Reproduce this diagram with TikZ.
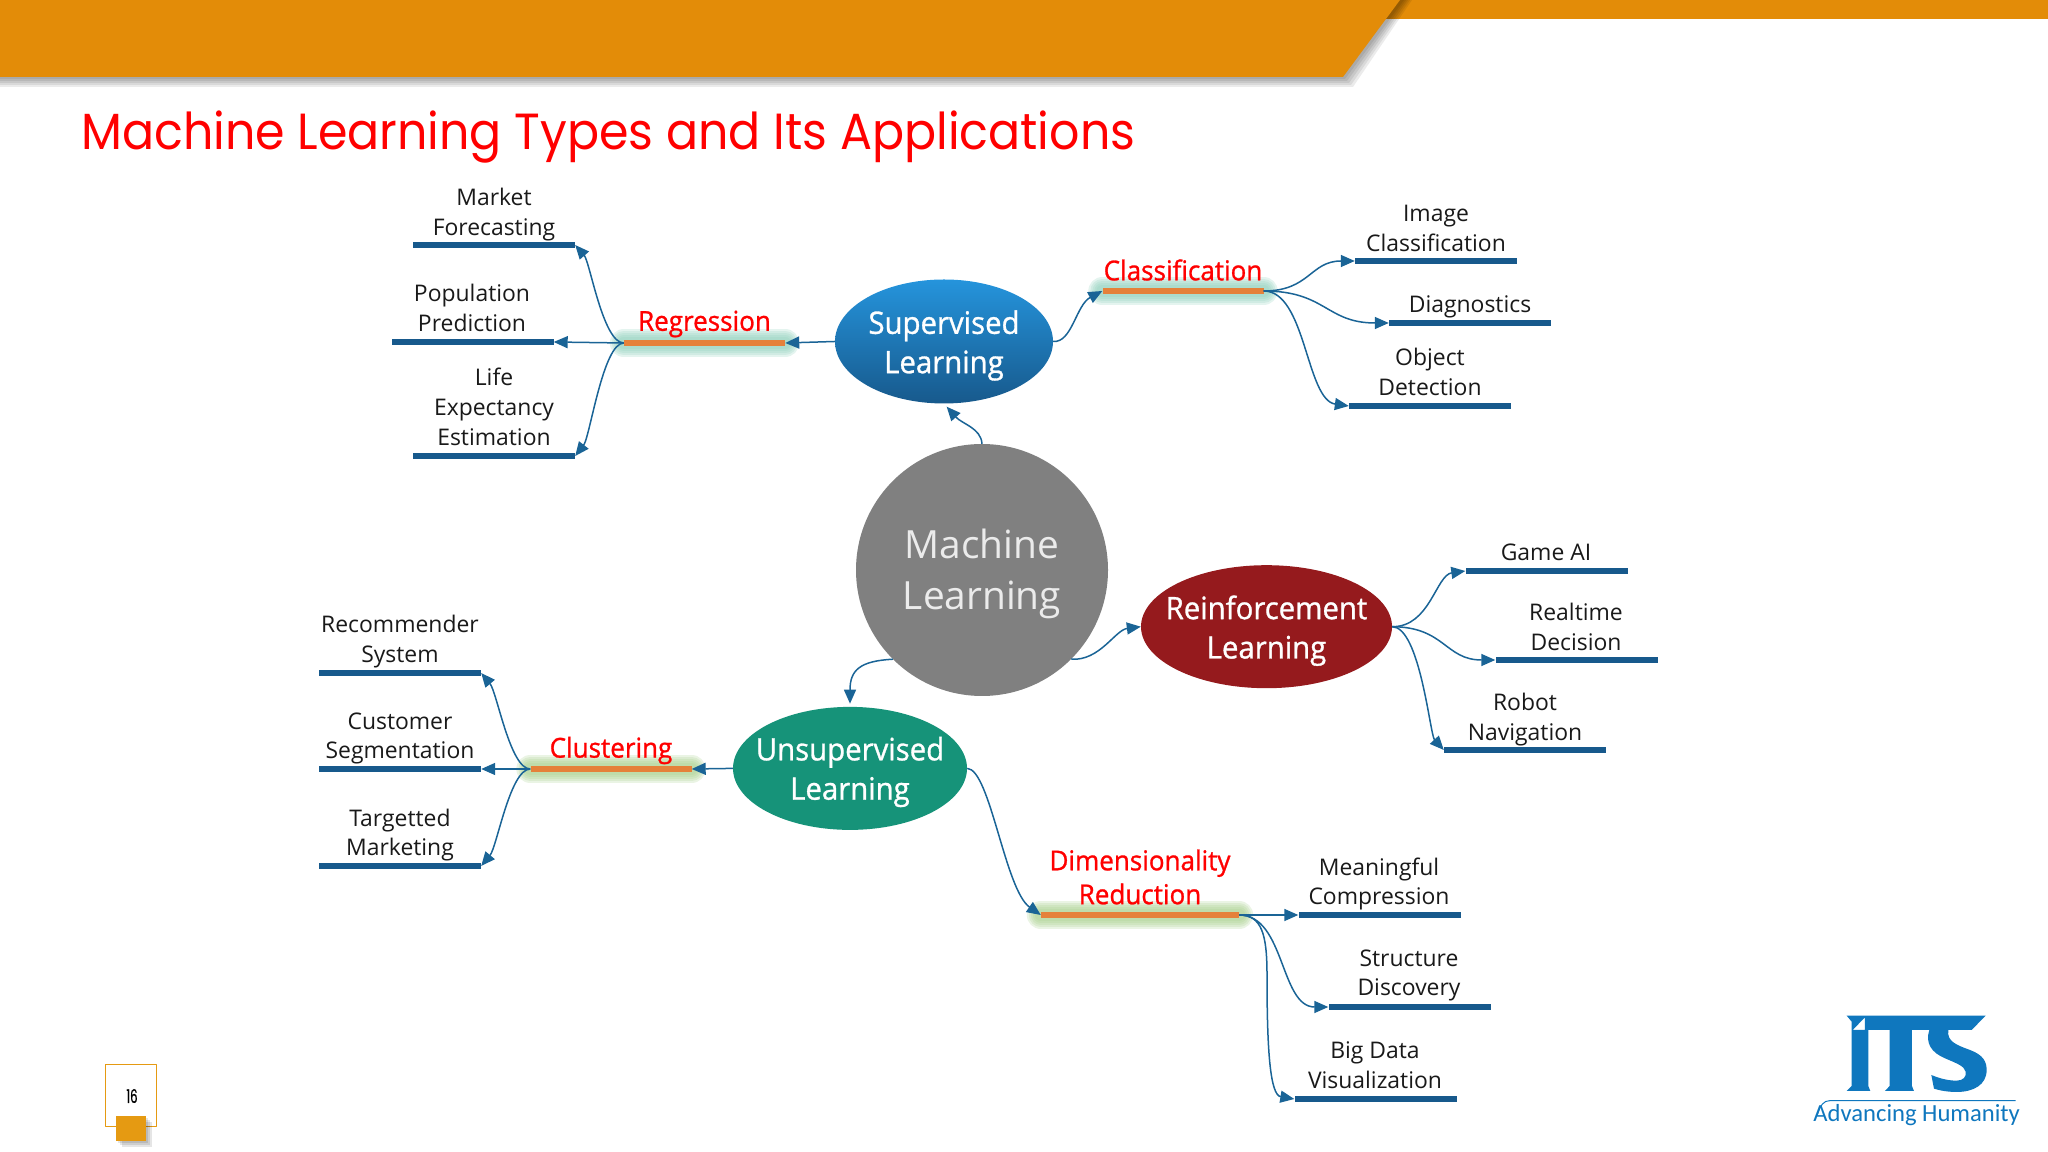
\documentclass[tikz,border=0pt]{standalone}
\usepackage[x11names, rgb]{xcolor}
\usepackage{fontspec}
\setmainfont{Open Sans}
\newfontfamily\titlefont[FakeStretch=0.935]{Poppins}
\newfontfamily\pagefont[FakeStretch=0.62,FakeBold=0.5]{Poppins}
\newfontfamily\catfont[FakeBold=1.0,FakeStretch=0.95]{Open Sans}
\newfontfamily\logofont{Carlito}
\usepackage{tikz}
\usetikzlibrary{arrows.meta,shapes.geometric,backgrounds}
\definecolor{headorange}{HTML}{E38C08}
\definecolor{tabq}{HTML}{E59A12}
\definecolor{barblue}{HTML}{17598C}
\definecolor{connblue}{HTML}{1A6496}
\definecolor{catorange}{HTML}{E5813A}
\definecolor{glowteal}{HTML}{8FD0BC}
\definecolor{glowgreen}{HTML}{A9D08E}
\definecolor{logoblue}{HTML}{0F77BE}
\definecolor{supertop}{HTML}{2594DC}
\definecolor{reinfred}{HTML}{951A1D}
\definecolor{unsupgreen}{HTML}{169379}
\tikzset{
  conn/.style={draw=connblue,line width=1.5bp,->},
  leafbar/.style={rectangle,fill=barblue,minimum width=162bp,minimum height=5.5bp,inner sep=0pt},
  catbar/.style={rectangle,fill=catorange,minimum width=161bp,minimum height=5.5bp,inner sep=0pt},
  leaftxt/.style={align=center,text=black!90,inner sep=0pt,font=\fontsize{23}{30}\selectfont},
  cattxt/.style={align=center,text=red,inner sep=0pt,font=\catfont\fontsize{27.5}{34}\selectfont},
  typeblob/.style={ellipse,inner sep=0pt},
  typetxt/.style={align=center,inner sep=0pt,text=white,font=\catfont\fontsize{31}{39.5}\selectfont},
}
\begin{document}
\begin{tikzpicture}[>={Triangle[length=14bp,width=12bp]},line join=bevel]
  \path[use as bounding box] (0bp,0bp) rectangle (2048bp,1152bp);
%% header
  \fill[headorange] (1380bp,1152bp) rectangle (2048bp,1133bp);
  \foreach \d in {2,4,6,8,10}
    \fill[black,opacity=0.08] (-10bp,{(1075-\d)*1bp}) -- ({(1343+\d)*1bp},{(1075-\d)*1bp}) -- ({(1402+\d)*1bp},1152bp) -- (-10bp,1152bp) -- cycle;
  \fill[headorange] (0bp,1152bp) -- (1400bp,1152bp) -- (1343bp,1075bp) -- (0bp,1075bp) -- cycle;
  \node (title) at (81bp,1002bp) [anchor=base west,inner sep=0pt,text=red,font=\titlefont\fontsize{51}{60}\selectfont] {Machine Learning Types and Its Applications};
%% the four blobs
  \node (machine) at (982bp,582bp) [circle,fill=black!50,minimum size=252bp,inner sep=0pt] {};
  \node (machine_txt) at (982bp,578bp) [align=center,inner sep=0pt,text=white!92!black,font=\fontsize{39}{52}\selectfont] {Machine\\Learning};
  \node (supervised) at (944bp,810.5bp) [typeblob,minimum width=218bp,minimum height=124bp,top color=supertop,bottom color=barblue] {};
  \node (supervised_txt) at (944bp,806.5bp) [typetxt] {Supervised\\Learning};
  \node (reinforcement) at (1266.5bp,525.3bp) [typeblob,minimum width=251bp,minimum height=123bp,fill=reinfred] {};
  \node (reinforcement_txt) at (1266.5bp,521.3bp) [typetxt] {Reinforcement\\Learning};
  \node (unsupervised) at (850bp,383.6bp) [typeblob,minimum width=234bp,minimum height=123bp,fill=unsupgreen] {};
  \node (unsupervised_txt) at (850bp,380bp) [typetxt] {Unsupervised\\Learning};
%% categories
  \node (reg_bar) at (704.5bp,809bp) [catbar] {};
  \node (reg_txt) at (704.5bp,828bp) [cattxt] {Regression};
  \node (class_bar) at (1183bp,861bp) [catbar] {};
  \node (class_txt) at (1183bp,882bp) [cattxt] {Classification};
  \node (clust_bar) at (611bp,383bp) [catbar] {};
  \node (clust_txt) at (611bp,401.5bp) [cattxt] {Clustering};
  \node (dim_bar) at (1140bp,237bp) [catbar,minimum width=198bp] {};
  \node (dim_txt) at (1140bp,275bp) [cattxt] {Dimensionality\\Reduction};
%% applications
  \node (market) at (494bp,907bp) [leafbar] {};
  \node (market_txt) at (494bp,937.5bp) [leaftxt] {Market\\Forecasting};
  \node (population) at (472.5bp,810bp) [leafbar] {};
  \node (population_txt) at (472bp,844bp) [leaftxt] {Population\\Prediction};
  \node (life) at (494bp,696bp) [leafbar] {};
  \node (life_txt) at (494bp,745bp) [leaftxt] {Life\\Expectancy\\Estimation};
  \node (image) at (1436bp,891bp) [leafbar] {};
  \node (image_txt) at (1436bp,923.5bp) [leaftxt] {Image\\Classification};
  \node (diagnostics) at (1470bp,829bp) [leafbar] {};
  \node (diagnostics_txt) at (1470bp,845.5bp) [leaftxt] {Diagnostics};
  \node (object) at (1430bp,746bp) [leafbar] {};
  \node (object_txt) at (1430bp,780bp) [leaftxt] {Object\\Detection};
  \node (game) at (1546.5bp,581bp) [leafbar] {};
  \node (game_txt) at (1546bp,600bp) [leaftxt] {Game AI};
  \node (realtime) at (1576.5bp,492bp) [leafbar] {};
  \node (realtime_txt) at (1576bp,525.5bp) [leaftxt] {Realtime\\Decision};
  \node (robot) at (1525bp,402bp) [leafbar] {};
  \node (robot_txt) at (1525bp,432.5bp) [leaftxt] {Robot\\Navigation};
  \node (recommender) at (400bp,479bp) [leafbar] {};
  \node (recommender_txt) at (400bp,510.5bp) [leaftxt] {Recommender\\System};
  \node (customer) at (400bp,383bp) [leafbar] {};
  \node (customer_txt) at (400bp,413.5bp) [leaftxt] {Customer\\Segmentation};
  \node (targetted) at (400bp,286bp) [leafbar] {};
  \node (targetted_txt) at (400bp,317bp) [leaftxt] {Targetted\\Marketing};
  \node (meaningful) at (1379.5bp,237bp) [leafbar] {};
  \node (meaningful_txt) at (1379bp,268bp) [leaftxt] {Meaningful\\Compression};
  \node (structure) at (1409.5bp,145bp) [leafbar] {};
  \node (structure_txt) at (1409bp,176.5bp) [leaftxt] {Structure\\Discovery};
  \node (bigdata) at (1375.5bp,53bp) [leafbar] {};
  \node (bigdata_txt) at (1375bp,87bp) [leaftxt] {Big Data\\Visualization};
%% glow behind the category bars
  \begin{scope}[on background layer]
    \foreach \b/\g in {reg_bar/glowteal,class_bar/glowteal,clust_bar/glowgreen,dim_bar/glowgreen}
      \foreach \w in {28,24,20,16,12}
        \draw[\g,opacity=0.24,line width=\w bp,line cap=round] (\b.west) -- (\b.east);
  \end{scope}
%% connectors
  \draw [conn,shorten >=4bp] (machine.north) ..controls (981bp,724bp) and (962bp,728bp)  .. (supervised.south);
  \draw [conn] (machine.-45) ..controls (1100bp,491bp) and (1115bp,522bp)  .. (reinforcement.west);
  \draw [conn,shorten >=3bp] (machine.225) ..controls (860bp,491bp) and (850bp,482bp)  .. (unsupervised.north);
  \draw [conn] (supervised.west) -- (reg_bar.east);
  \draw [conn] (supervised.east) ..controls (1072bp,809bp) and (1076bp,847bp)  .. (class_bar.west);
  \draw [conn] (unsupervised.west) -- (clust_bar.east);
  \draw [conn] (unsupervised.east) ..controls (990bp,383bp) and (1005bp,262bp)  .. (dim_bar.west);
  \draw [conn] (reg_bar.west) ..controls (603bp,809bp) and (590bp,890bp)  .. (market.east);
  \draw [conn] (reg_bar.west) -- (population.east);
  \draw [conn] (reg_bar.west) ..controls (603bp,809bp) and (590bp,715bp)  .. (life.east);
  \draw [conn] (class_bar.east) ..controls (1310bp,861bp) and (1310bp,891bp)  .. (image.west);
  \draw [conn] (class_bar.east) ..controls (1326bp,861bp) and (1326bp,829bp)  .. (diagnostics.west);
  \draw [conn] (class_bar.east) ..controls (1306bp,861bp) and (1306bp,752bp)  .. (object.west);
  \draw [conn] (reinforcement.east) ..controls (1430bp,525bp) and (1436bp,577bp)  .. (game.west);
  \draw [conn] (reinforcement.east) ..controls (1445bp,525bp) and (1445bp,492bp)  .. (realtime.west);
  \draw [conn] (reinforcement.east) ..controls (1420bp,525bp) and (1430bp,417bp)  .. (robot.west);
  \draw [conn] (clust_bar.west) ..controls (510bp,383bp) and (497bp,460bp)  .. (recommender.east);
  \draw [conn] (clust_bar.west) -- (customer.east);
  \draw [conn] (clust_bar.west) ..controls (510bp,383bp) and (497bp,305bp)  .. (targetted.east);
  \draw [conn] (dim_bar.east) -- (meaningful.west);
  \draw [conn] (dim_bar.east) ..controls (1285bp,237bp) and (1280bp,145bp)  .. (structure.west);
  \draw [conn] (dim_bar.east) ..controls (1262bp,237bp) and (1267bp,217bp)  .. (1267bp,177bp) .. controls (1267bp,102bp) and (1270bp,57bp)  .. (bigdata.west);
%% page number
  \node (page_box) at (131bp,56.5bp) [rectangle,draw=tabq,line width=1.8bp,fill=white,minimum width=51bp,minimum height=62bp,inner sep=0pt] {};
  \node (page_num) at (132bp,56bp) [inner sep=0pt,font=\pagefont\fontsize{19}{20}\selectfont] {16};
  \foreach \d in {2,4,6}
    \fill[black,opacity=0.1] ({(116+\d)*1bp},{(11-\d)*1bp}) rectangle ({(146+\d)*1bp},{(36-\d)*1bp});
  \node (page_tab) at (131bp,23.5bp) [rectangle,fill=tabq,minimum width=30bp,minimum height=25bp,inner sep=0pt] {};
%% logo
  \begin{scope}[shift={(1700bp,172bp)},x=0.3333bp,y=-0.3333bp]
    \fill[logoblue,even odd rule] (440,107) -- (857,107) -- (815,150) -- (745,150) .. controls (740,185) and (770,195) .. (810,210) .. controls (850,225) and (860,245) .. (860,270) .. controls (860,315) and (820,336) .. (770,336) .. controls (745,336) and (720,332) .. (702,326) -- (694,285) .. controls (725,298) and (750,302) .. (770,302) .. controls (790,302) and (800,290) .. (797,275) .. controls (793,258) and (770,250) .. (735,235) .. controls (695,218) and (675,190) .. (688,150) -- (636,150) -- (636,318) -- (642,333) -- (555,333) -- (569,318) -- (569,150) -- (505,150) -- (505,318) -- (511,333) -- (440,333) -- (455,318) -- (455,150) -- (495,150) -- (495,112) -- (458,150) -- (455,150) -- (455,125) -- cycle;
    \draw[logoblue,line width=1bp] (352,405) .. controls (362,375) and (370,362) .. (390,362) -- (947,362);
    \node (logo_txt) at (650,406) [text=logoblue,inner sep=0pt,font=\logofont\fontsize{24.7}{30}\selectfont] {Advancing Humanity};
  \end{scope}
%
\end{tikzpicture}
\end{document}
